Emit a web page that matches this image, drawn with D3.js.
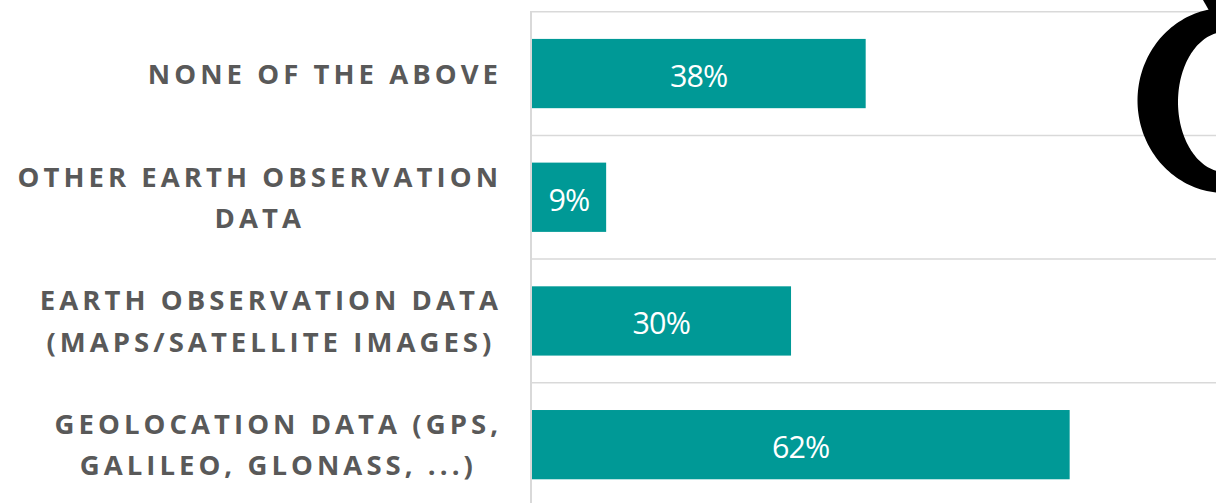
<!DOCTYPE html>
<html>
<head>
<meta charset="utf-8">
<script src="https://cdn.jsdelivr.net/npm/d3@7"></script>
<style>
  html, body { margin: 0; padding: 0; background: #ffffff; overflow: hidden; }
  svg { display: block; }
</style>
</head>
<body>
<svg id="chart" width="1216" height="503"></svg>
<script>
// ---- data ----
const categories = [
  "NONE OF THE ABOVE",
  "OTHER EARTH OBSERVATION DATA",
  "EARTH OBSERVATION DATA (MAPS/SATELLITE IMAGES)",
  "GEOLOCATION DATA (GPS, GALILEO, GLONASS, ...)"
];
const labelLines = [
  ["NONE OF THE ABOVE"],
  ["OTHER EARTH OBSERVATION", "DATA"],
  ["EARTH OBSERVATION DATA", "(MAPS/SATELLITE IMAGES)"],
  ["GEOLOCATION DATA (GPS,", "GALILEO, GLONASS, ...)"]
];
const values = [38.5, 8.6, 29.9, 62];
const valueLabels = ["38%", "9%", "30%", "62%"];

// ---- layout ----
const W = 1216, H = 503;
const svg = d3.select("#chart");
const axisX = 531;
const plotTop = 11.7, step = 123.7;
const padInner = 0.44, padOuter = 0.22;

const y = d3.scaleBand()
  .domain(categories)
  .range([plotTop, plotTop + step * categories.length])
  .paddingInner(padInner)
  .paddingOuter(padOuter);

const x = d3.scaleLinear().domain([0, 100]).range([axisX + 0.5, axisX + 0.5 + 868]);

const teal = "#009996";
const grid = "#d9d9d9";
const labelColor = "#595959";

// gridlines at band boundaries
const boundaries = categories.map(c => y(c) - y.step() * padOuter);
svg.append("g").selectAll("line").data(boundaries).join("line")
  .attr("x1", axisX).attr("x2", W)
  .attr("y1", d => d).attr("y2", d => d)
  .attr("stroke", grid).attr("stroke-width", 1.5);

// bars
svg.append("g").selectAll("rect").data(values).join("rect")
  .attr("x", x(0))
  .attr("y", (d, i) => y(categories[i]))
  .attr("width", d => x(d) - x(0))
  .attr("height", y.bandwidth())
  .attr("fill", teal);

// axis line
svg.append("line")
  .attr("x1", axisX).attr("x2", axisX)
  .attr("y1", plotTop - 0.7).attr("y2", H)
  .attr("stroke", grid).attr("stroke-width", 2);

// value labels
svg.append("g").selectAll("text").data(values).join("text")
  .attr("x", d => (x(0) + x(d)) / 2)
  .attr("y", (d, i) => y(categories[i]) + y.bandwidth() / 2 + 13.5)
  .attr("text-anchor", "middle")
  .attr("fill", "#ffffff")
  .style("font-family", "'Open Sans', sans-serif")
  .style("font-weight", 400)
  .style("font-size", "30.5px")
  .style("letter-spacing", "-0.9px")
  .text((d, i) => valueLabels[i]);

// category labels (multi-line, centred block, right-aligned)
const rightEdge = 498;
const fs = 27.5, lineGap = 41.3, ls = 4.05;
const lg = svg.append("g");
categories.forEach((c, i) => {
  const lines = labelLines[i];
  const cy = y(c) + y.bandwidth() / 2;
  const t = lg.append("text")
    .attr("fill", labelColor)
    .attr("text-anchor", "middle")
    .style("font-family", "'Open Sans', sans-serif")
    .style("font-weight", 700)
    .style("font-size", fs + "px")
    .style("letter-spacing", ls + "px");
  const n = lines.length;
  const spans = lines.map((ln, k) => t.append("tspan")
    .attr("y", cy + 10 + (k - (n - 1) / 2) * lineGap)
    .text(ln));
  let maxW = 0;
  spans.forEach(s => { maxW = Math.max(maxW, s.node().getComputedTextLength() - ls); });
  const cx = rightEdge - maxW / 2 + ls / 2;
  spans.forEach(s => s.attr("x", cx));
});

// decorative black glyph fragment at top-right
function ellipse(p, cx, cy, rx, ry) {
  p.moveTo(cx + rx, cy);
  for (let a = 0; a <= 360; a += 2) {
    const r = a * Math.PI / 180;
    p.lineTo(cx + rx * Math.cos(r), cy + ry * Math.sin(r));
  }
  p.closePath();
}
const ring = d3.path();
ellipse(ring, 1225, 100.5, 87.5, 92.5);
ellipse(ring, 1225, 102, 47, 70);
svg.append("path").attr("d", ring.toString()).attr("fill", "#000").attr("fill-rule", "evenodd");
svg.append("path").attr("d", "M1203,0 L1216,0 L1216,16 L1211,14 Z").attr("fill", "#000");
</script>
</body>
</html>
